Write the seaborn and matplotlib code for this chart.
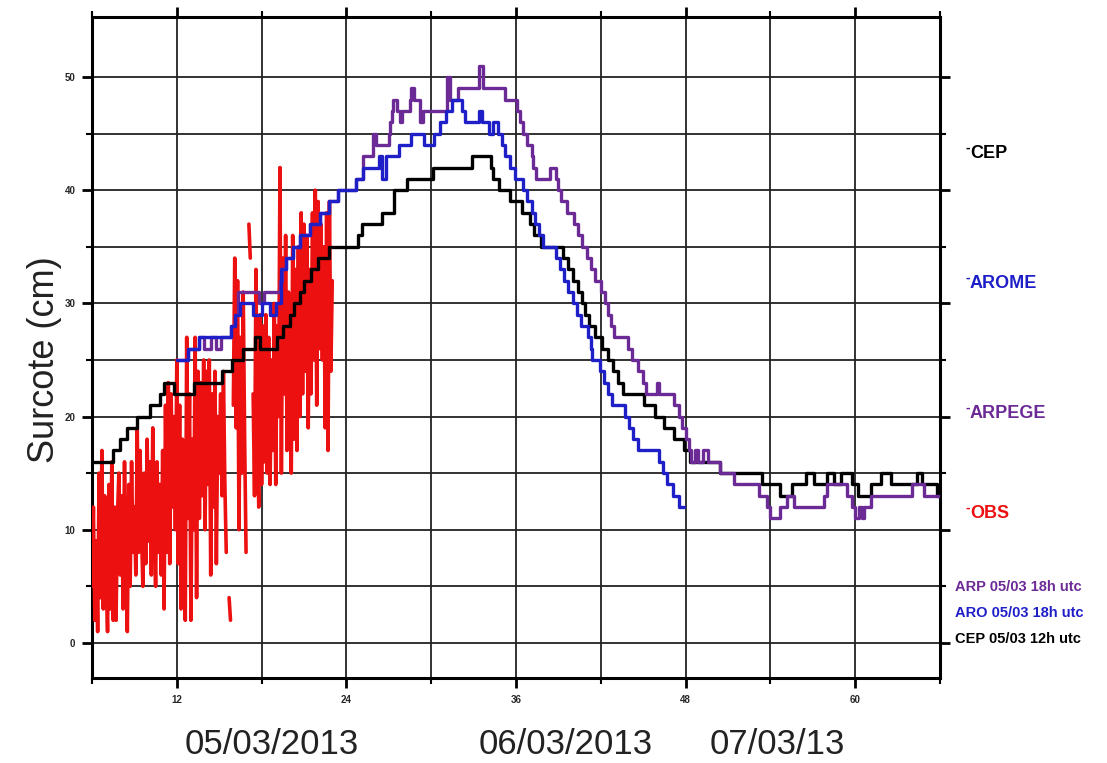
import numpy as np
import pandas as pd
import matplotlib
matplotlib.use("Agg")
import matplotlib.pyplot as plt
import seaborn as sns

# ---------------- data ----------------
# CEP (black) step series: hour, surcote (cm)
cep_h = [6.0, 7.5, 8.0, 8.5, 9.2, 10.1, 10.8, 11.1, 11.8, 13.2, 15.2, 15.9, 16.7, 17.5, 17.9,
         19.1, 19.5, 20.0, 20.3, 20.7, 21.0, 21.5, 22.0, 22.8, 24.8, 25.1, 26.5, 27.4, 28.3,
         30.1, 32.9, 34.2, 34.4, 34.8, 35.6, 36.4, 37.0, 37.3, 37.8, 39.3, 39.7, 40.0, 40.4,
         40.7, 40.9, 41.2, 41.6, 42.05, 42.5, 42.85, 43.2, 43.55, 45.05, 45.8, 46.5, 47.2,
         47.9, 48.3, 50.4, 53.4, 54.7, 55.5, 56.5, 57.1, 58.0, 58.5, 59.0, 59.8, 60.2, 61.1,
         61.8, 62.5, 64.4, 64.7, 65.8, 66.0]
cep_v = [16, 17, 18, 19, 20, 21, 22, 23, 22, 23, 24, 25, 26, 27, 26,
         27, 28, 29, 30, 31, 32, 33, 34, 35, 36, 37, 38, 40, 41,
         42, 43, 42, 41, 40, 39, 38, 37, 36, 35, 34, 33, 32, 31,
         30, 29, 28, 27, 26, 25, 24, 23, 22, 21, 20, 19, 18,
         17, 16, 15, 14, 13, 14, 15, 14, 15, 14, 15, 14, 13, 14,
         15, 14, 15, 14, 13, 13]

# AROME (blue)
aro_h = [12.0, 12.8, 13.6, 15.8, 16.1, 16.5, 17.4, 18.0, 18.6, 19.0, 19.4, 19.7, 20.2, 20.7,
         21.4, 22.1, 22.8, 23.4, 24.7, 25.2, 26.3, 26.5, 26.8, 27.7, 28.6, 29.5, 30.2, 30.6,
         31.05, 31.5, 32.2, 32.4, 33.4, 33.6, 34.1, 34.4, 34.75, 35.0, 35.2, 35.6, 35.9, 36.5,
         36.8, 37.1, 37.35, 37.6, 37.9, 38.8, 39.1, 39.4, 39.7, 40.0, 40.3, 40.6, 41.1, 41.3,
         41.4, 41.95, 42.2, 42.5, 42.8, 43.7, 44.0, 44.3, 44.6, 46.1, 46.4, 46.7, 47.1, 47.5,
         47.9]
aro_v = [25, 26, 27, 28, 29, 30, 29, 30, 29, 30, 33, 34, 35, 36,
         37, 38, 39, 40, 41, 42, 43, 41, 43, 44, 45, 44, 45, 46,
         47, 48, 47, 46, 47, 46, 45, 46, 45, 44, 43, 42, 41, 40,
         39, 38, 37, 36, 35, 34, 33, 32, 31, 30, 29, 28, 27, 26,
         25, 24, 23, 22, 21, 20, 19, 18, 17, 16, 15, 14, 13, 12,
         12]

# ARPEGE (purple)
arp_h = [12.0, 12.8, 13.6, 13.9, 14.4, 14.8, 15.1, 15.8, 16.1, 16.3, 17.8, 18.2, 19.3, 19.45,
         19.7, 20.2, 20.7, 21.4, 22.1, 22.8, 23.4, 24.7, 25.2, 25.9, 26.1, 27.0, 27.1, 27.2,
         27.3, 27.6, 27.8, 27.95, 28.5, 28.6, 28.8, 29.2, 29.4, 31.1, 31.3, 31.9, 33.4, 33.7,
         35.2, 36.1, 36.3, 36.5, 36.8, 37.1, 37.2, 37.4, 38.4, 38.8, 39.0, 39.2, 39.6, 40.1,
         40.4, 40.7, 41.0, 41.3, 41.6, 42.0, 42.3, 42.5, 42.7, 42.9, 43.95, 44.2, 44.6, 45.0,
         45.2, 46.0, 46.15, 47.2, 47.5, 47.75, 48.0, 48.25, 48.4, 48.7, 48.9, 49.2, 49.6, 50.4,
         51.4, 53.2, 53.75, 54.0, 54.7, 55.2, 55.65, 57.8, 58.0, 59.45, 59.8, 60.0, 60.3, 60.5,
         60.6, 61.1, 64.0, 64.9, 66.0]
arp_v = [25, 26, 27, 26, 27, 26, 27, 28, 29, 31, 30, 31, 32, 33,
         34, 35, 36, 37, 38, 39, 40, 41, 43, 45, 44, 45, 46, 47,
         48, 47, 46, 47, 48, 49, 48, 46, 47, 50, 48, 49, 51, 49,
         48, 47, 46, 45, 44, 43, 42, 41, 42, 41, 40, 39, 38, 37,
         36, 35, 34, 33, 32, 31, 30, 29, 28, 27, 26, 25, 24, 23,
         22, 23, 22, 21, 20, 19, 18, 17, 16, 17, 16, 17, 16, 15,
         14, 13, 12, 11, 12, 13, 12, 13, 14, 13, 12, 11, 12, 11,
         12, 13, 14, 13, 13]

# OBS (red), every 0.1 h from 6.0 h; nan = gap in record
obs_v = [5, 12, 2, 9, 1, 15, 4, 17, 3, 13,
         6, 1, 14, 3, 16, 2, 12, 2, 11, 15,
         6, 13, 3, 16, 7, 1, 14, 5, 16, 8,
         12, 6, 19, 8, 17, 10, 5, 15, 7, 18,
         9, 16, 6, 19, 11, 5, 16, 8, 14, 6,
         17, 3, 21, 8, 23, 7, 22, 12, 20, 10,
         25, 7, 21, 3, 18, 13, 2, 27, 11, 22,
         2, 18, 10, 27, 4, 24, 11, 23, 13, 25,
         10, 24, 14, 25, 6, 22, 12, 24, 7, 20,
         15, 22, 13, 24, 14, 8, np.nan, 4, 2, np.nan,
         21, 34, 19, 32, 10, 27, 15, 31, 18, 8,
         np.nan, 37, 34, np.nan, 22, 13, 33, 18, 12, 29,
         14, 28, 16, 29, 15, 27, 14, 25, 17, 30,
         14, 28, 20, 42, 15, 34, 22, 36, 17, 31,
         22, 15, 36, 18, 33, 17, 35, 20, 38, 22,
         37, 24, 36, 19, 33, 22, 38, 25, 40, 21,
         39, 26, 37, 25, 35, 19, 38, 17, 39, 24,
         32]
obs_start = 6.0
obs_step = 0.1

x_ticks = [12, 24, 36, 48, 60]
y_ticks = [0, 10, 20, 30, 40, 50]
date_labels = ["05/03/2013", "06/03/2013", "07/03/13"]

series_labels = ["CEP", "AROME", "ARPEGE", "OBS"]
run_labels = ["ARP 05/03 18h utc", "ARO 05/03 18h utc", "CEP 05/03 12h utc"]

# ---------------- style ----------------
sns.set_style("white")
plt.rcParams["font.family"] = ["Liberation Sans", "DejaVu Sans"]

C_CEP = "#000000"
C_ARO = "#1f1fc8"
C_ARP = "#6c2a96"
C_OBS = "#ec1010"

W, H = 1107, 763
fig = plt.figure(figsize=(W / 100, H / 100), dpi=100)
ax = fig.add_axes([92 / W, 1 - 678 / H, (940 - 92) / W, (678 - 17) / H])

# OBS as segments separated by gaps
obs_h = obs_start + obs_step * np.arange(len(obs_v))
obs_arr = np.array(obs_v, dtype=float)
seg = np.cumsum(np.isnan(obs_arr))
df_obs = pd.DataFrame({"h": obs_h, "v": obs_arr, "seg": seg}).dropna()
sns.lineplot(data=df_obs, x="h", y="v", units="seg", estimator=None, color=C_OBS,
             lw=2.6, ax=ax, legend=False, sort=False, zorder=3)

df_cep = pd.DataFrame({"h": cep_h, "v": cep_v})
df_aro = pd.DataFrame({"h": aro_h, "v": aro_v})
df_arp = pd.DataFrame({"h": arp_h, "v": arp_v})
sns.lineplot(data=df_cep, x="h", y="v", color=C_CEP, lw=2.4, drawstyle="steps-post",
             ax=ax, estimator=None, sort=False, zorder=4)
sns.lineplot(data=df_arp, x="h", y="v", color=C_ARP, lw=2.4, drawstyle="steps-post",
             ax=ax, estimator=None, sort=False, zorder=5)
sns.lineplot(data=df_aro, x="h", y="v", color=C_ARO, lw=2.4, drawstyle="steps-post",
             ax=ax, estimator=None, sort=False, zorder=5)

ax.set_xlim(6, 66)
ax.set_ylim(-3.1, 55.3)
ax.set_xticks(x_ticks)
ax.set_xticks([6, 18, 30, 42, 54, 66], minor=True)
ax.set_yticks(y_ticks)
ax.set_yticks([5, 15, 25, 35, 45], minor=True)
ax.set_xticklabels([str(t) for t in x_ticks], fontsize=7, fontweight="bold")
ax.set_yticklabels([str(t) for t in y_ticks], fontsize=7, fontweight="bold")
ax.grid(True, which="both", color="#222222", lw=1.3)
ax.set_axisbelow(True)
ax.tick_params(axis="both", which="major", direction="out", length=7, width=2,
               color="black", pad=5, top=True, right=True, bottom=True, left=True)
ax.tick_params(axis="both", which="minor", direction="out", length=4, width=1.5,
               color="black", top=True, right=True, bottom=True, left=True)
ax.set_xlabel("")
ax.set_ylabel("")
for s in ax.spines.values():
    s.set_visible(True)
    s.set_color("black")
    s.set_linewidth(2.2)

# axis title
fig.text(45 / W, 1 - 360 / H, "Surcote (cm)", rotation=90, fontsize=26,
         ha="center", va="center", color="#222222")

# date labels under the axis
for lab, xc in zip(date_labels, [272, 566, 777]):
    fig.text(xc / W, 1 - 745 / H, lab, fontsize=25, ha="center", va="center",
             color="#222222")

# series labels on the right (with the small raised dash)
for lab, yc, col in zip(series_labels, [153, 283, 413, 513], [C_CEP, C_ARO, C_ARP, C_OBS]):
    fig.text(965 / W, 1 - (yc - 5) / H, "-", fontsize=10, fontweight="bold",
             ha="left", va="center", color=col)
    fig.text(970 / W, 1 - yc / H, lab, fontsize=13, fontweight="bold",
             ha="left", va="center", color=col)

for lab, yc, col in zip(run_labels, [587, 613, 639], [C_ARP, C_ARO, C_CEP]):
    fig.text(955 / W, 1 - yc / H, lab, fontsize=10.5, fontweight="bold",
             ha="left", va="center", color=col)

fig.savefig("out.png", dpi=100)
